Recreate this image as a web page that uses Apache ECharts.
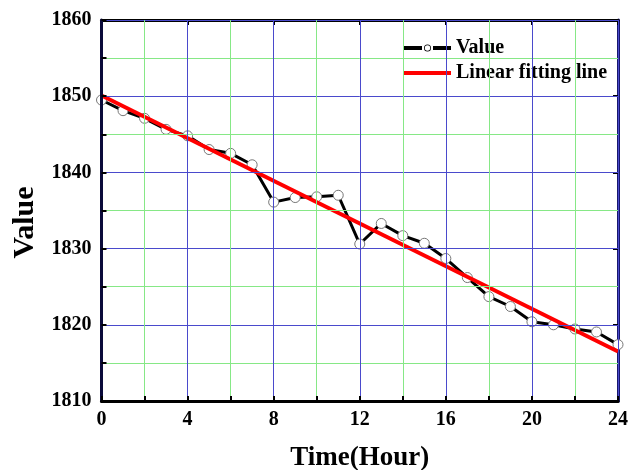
<!DOCTYPE html>
<html>
<head>
<meta charset="utf-8">
<script src="https://cdn.jsdelivr.net/npm/echarts@6/dist/echarts.min.js"></script>
<style>
  html, body { margin: 0; padding: 0; background: #fff; }
  #chart { width: 640px; height: 470px; }
</style>
</head>
<body>
<div id="chart"></div>
<script>
// Hourly readings over one day
const hours = [0, 1, 2, 3, 4, 5, 6, 7, 8, 9, 10, 11, 12, 13, 14, 15, 16, 17, 18, 19, 20, 21, 22, 23, 24];
const values = [1849.5, 1848.1, 1847.1, 1845.65, 1844.8, 1843.0, 1842.5, 1841.0, 1836.1, 1836.7, 1836.8, 1837.0,
                1830.6, 1833.3, 1831.7, 1830.7, 1828.7, 1826.2, 1823.7, 1822.4, 1820.4, 1820.0, 1819.45, 1819.06, 1817.4];

// Endpoints of the linear fit
const fitHours = [0, 24];
const fitValues = [1850.1, 1816.5];

// Titles and legend names
const xTitle = 'Time(Hour)';
const yTitle = 'Value';
const seriesNames = ['Value', 'Linear fitting line'];

const FONT = '"Liberation Serif", "Times New Roman", serif';
const BLUE = '#4a4acc';
const GREEN = '#86e886';

// Legend glyphs: dashed line with a hollow circle, and a plain thick bar
const valueIcon = 'path://M0,2H18V6H0Z M29,2H47V6H29Z ' +
                  'M27,4A3.5,3.5 0 1,0 20,4A3.5,3.5 0 1,0 27,4Z ' +
                  'M26.2,4A2.7,2.7 0 1,1 20.8,4A2.7,2.7 0 1,1 26.2,4Z';
const fitIcon = 'path://M0,2H47V6H0Z';

const valuePairs = hours.map((h, i) => [h, values[i]]);
const fitPairs = fitHours.map((h, i) => [h, fitValues[i]]);

const hiddenAxisParts = {
  axisLabel: { show: false },
  splitLine: { show: false },
  minorTick: { show: false },
  minorSplitLine: { show: false },
  splitArea: { show: false }
};

const chart = echarts.init(document.getElementById('chart'), null, { renderer: 'canvas' });

chart.setOption({
  backgroundColor: '#ffffff',
  animation: false,
  grid: { left: 101.5, right: 22, top: 20, bottom: 69, containLabel: false, outerBoundsMode: 'none' },
  legend: {
    left: 399, top: 33,
    orient: 'vertical',
    itemWidth: 47, itemHeight: 8, itemGap: 5,
    symbolKeepAspect: true,
    textStyle: { fontFamily: FONT, fontWeight: 'bold', fontSize: 20, color: '#000' },
    data: [
      { name: seriesNames[0], icon: valueIcon, itemStyle: { color: '#000', borderWidth: 0 } },
      { name: seriesNames[1], icon: fitIcon, itemStyle: { color: '#ff0000', borderWidth: 0 } }
    ]
  },
  xAxis: [
    {
      type: 'value', min: 0, max: 24, interval: 4,
      name: xTitle, nameLocation: 'middle', nameGap: 44,
      nameTextStyle: { fontFamily: FONT, fontWeight: 'bold', fontSize: 27, color: '#000' },
      axisLine: { onZero: false, lineStyle: { color: '#000', width: 3 } },
      axisTick: { inside: true, length: 5, lineStyle: { color: '#000', width: 2 } },
      minorTick: { show: true, splitNumber: 2, length: 5, lineStyle: { color: '#000', width: 2 } },
      axisLabel: { fontFamily: FONT, fontWeight: 'bold', fontSize: 20, color: '#000', margin: 9 },
      splitLine: { show: true, lineStyle: { color: BLUE, width: 1 } },
      minorSplitLine: { show: true, lineStyle: { color: GREEN, width: 1 } },
      z: 5
    },
    Object.assign({
      type: 'value', min: 0, max: 24, interval: 4, position: 'top',
      axisLine: { onZero: false, lineStyle: { color: '#000', width: 3 } },
      axisTick: { inside: true, length: 5, lineStyle: { color: '#000', width: 2 } }
    }, hiddenAxisParts)
  ],
  yAxis: [
    {
      type: 'value', min: 1810, max: 1860, interval: 10,
      name: yTitle, nameLocation: 'middle', nameGap: 61, nameRotate: 90,
      nameTextStyle: { fontFamily: FONT, fontWeight: 'bold', fontSize: 30, color: '#000', padding: [0, 24, 0, 0] },
      axisLine: { onZero: false, lineStyle: { color: '#0a0a3a', width: 3 } },
      axisTick: { inside: true, length: 5, lineStyle: { color: '#000', width: 2 } },
      minorTick: { show: true, splitNumber: 2, length: 5, lineStyle: { color: '#000', width: 2 } },
      axisLabel: { fontFamily: FONT, fontWeight: 'bold', fontSize: 20, color: '#000', margin: 10,
                   formatter: v => String(v) },
      splitLine: { show: true, lineStyle: { color: BLUE, width: 1 } },
      minorSplitLine: { show: true, lineStyle: { color: GREEN, width: 1 } },
      z: 5
    },
    Object.assign({
      type: 'value', min: 1810, max: 1860, interval: 10, position: 'right',
      axisLine: { onZero: false, lineStyle: { color: '#16166e', width: 3 } },
      axisTick: { inside: true, length: 5, lineStyle: { color: '#000', width: 2 } }
    }, hiddenAxisParts)
  ],
  series: [
    {
      name: seriesNames[0],
      type: 'line',
      data: valuePairs,
      symbol: 'circle',
      symbolSize: 10,
      showAllSymbol: true,
      lineStyle: { color: '#000', width: 3 },
      itemStyle: { color: '#fff', borderColor: '#777', borderWidth: 1 },
      z: 3
    },
    {
      name: seriesNames[1],
      type: 'line',
      data: fitPairs,
      symbol: 'none',
      lineStyle: { color: '#ff0000', width: 4 },
      itemStyle: { color: '#ff0000' },
      z: 4
    }
  ]
});
</script>
</body>
</html>
